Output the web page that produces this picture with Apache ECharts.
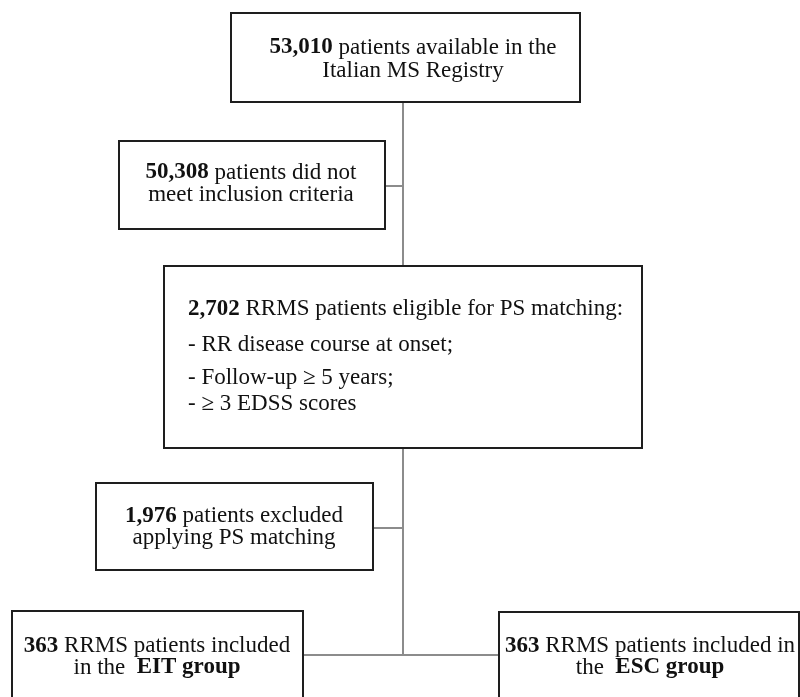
<!DOCTYPE html>
<html>
<head>
<meta charset="utf-8">
<script src="https://cdn.jsdelivr.net/npm/echarts@6/dist/echarts.min.js"></script>
<style>
  html, body { margin: 0; padding: 0; background: #fff; }
  #chart { width: 800px; height: 697px; }
</style>
</head>
<body>
<div id="chart"></div>
<script>
// patient counts shown in the flow boxes
const counts = ["53,010", "50,308", "2,702", "1,976", "363", "363"];

// text of each box, one entry per line ({b|..} = bold)
const boxLines = [
  ["{b|" + counts[0] + "} patients available in the", "Italian MS Registry"],
  ["{b|" + counts[1] + "} patients did not", "meet inclusion criteria"],
  [
    "{b|" + counts[2] + "} RRMS patients eligible for PS matching:",
    "- RR disease course at onset;",
    "- Follow-up \u2265 5 years;",
    "- \u2265 3 EDSS scores",
  ],
  ["{b|" + counts[3] + "} patients excluded", "applying PS matching"],
  ["{b|" + counts[4] + "} RRMS patients included", "in the  {b|EIT group}"],
  ["{b|" + counts[5] + "} RRMS patients included in", "the  {b|ESC group}"],
];

// layout (page units, y down)
const boxLeft = [231, 119, 164, 96, 12, 499];
const boxTop = [13, 141, 266, 483, 611, 612];
const boxRight = [580, 385, 642, 373, 303, 799];
const boxBottom = [102, 229, 448, 570, 730, 730];
const textX = [413, 251, 188, 234, 157, 650];
const textAlign = ["center", "center", "left", "center", "center", "center"];
const lineY = [
  [47.5, 70.5],
  [172.5, 195],
  [309, 345, 377.5, 404],
  [516, 537.5],
  [646, 667.5],
  [646, 667.5],
];

// connectors: [x1, y1, x2, y2]
const links = [
  [403, 102, 403, 655],
  [385, 186, 403, 186],
  [373, 528, 403, 528],
  [303, 655, 499, 655],
];

const FONT = "'Liberation Serif', 'Times New Roman', serif";

const chart = echarts.init(document.getElementById("chart"));

chart.setOption({
  animation: false,
  backgroundColor: "#fff",
  grid: { left: 0, right: 0, top: 0, bottom: 0 },
  xAxis: { type: "value", min: 0, max: 800, show: false },
  yAxis: { type: "value", min: 0, max: 697, inverse: true, show: false },
  series: [
    {
      type: "custom",
      z: 1,
      data: links,
      renderItem(params, api) {
        const a = api.coord([api.value(0), api.value(1)]);
        const b = api.coord([api.value(2), api.value(3)]);
        return {
          type: "line",
          shape: { x1: a[0], y1: a[1], x2: b[0], y2: b[1] },
          style: { stroke: "#8c8c8c", lineWidth: 2 },
        };
      },
    },
    {
      type: "custom",
      z: 2,
      data: counts.map((c, i) => [boxLeft[i], boxTop[i], boxRight[i], boxBottom[i], i]),
      renderItem(params, api) {
        const i = api.value(4);
        const p0 = api.coord([api.value(0), api.value(1)]);
        const p1 = api.coord([api.value(2), api.value(3)]);
        const children = [
          {
            type: "rect",
            shape: { x: p0[0], y: p0[1], width: p1[0] - p0[0], height: p1[1] - p0[1] },
            style: { fill: "#fff", stroke: "#1e1e1e", lineWidth: 2 },
          },
        ];
        boxLines[i].forEach((line, k) => {
          const p = api.coord([textX[i], lineY[i][k]]);
          children.push({
            type: "text",
            style: {
              text: line,
              x: p[0],
              y: p[1],
              align: textAlign[i],
              verticalAlign: "middle",
              fontFamily: FONT,
              fontSize: 23,
              fill: "#111",
              rich: {
                b: { fontFamily: FONT, fontSize: 23, fontWeight: "bold", fill: "#111" },
              },
            },
          });
        });
        return { type: "group", children };
      },
    },
  ],
});
</script>
</body>
</html>
